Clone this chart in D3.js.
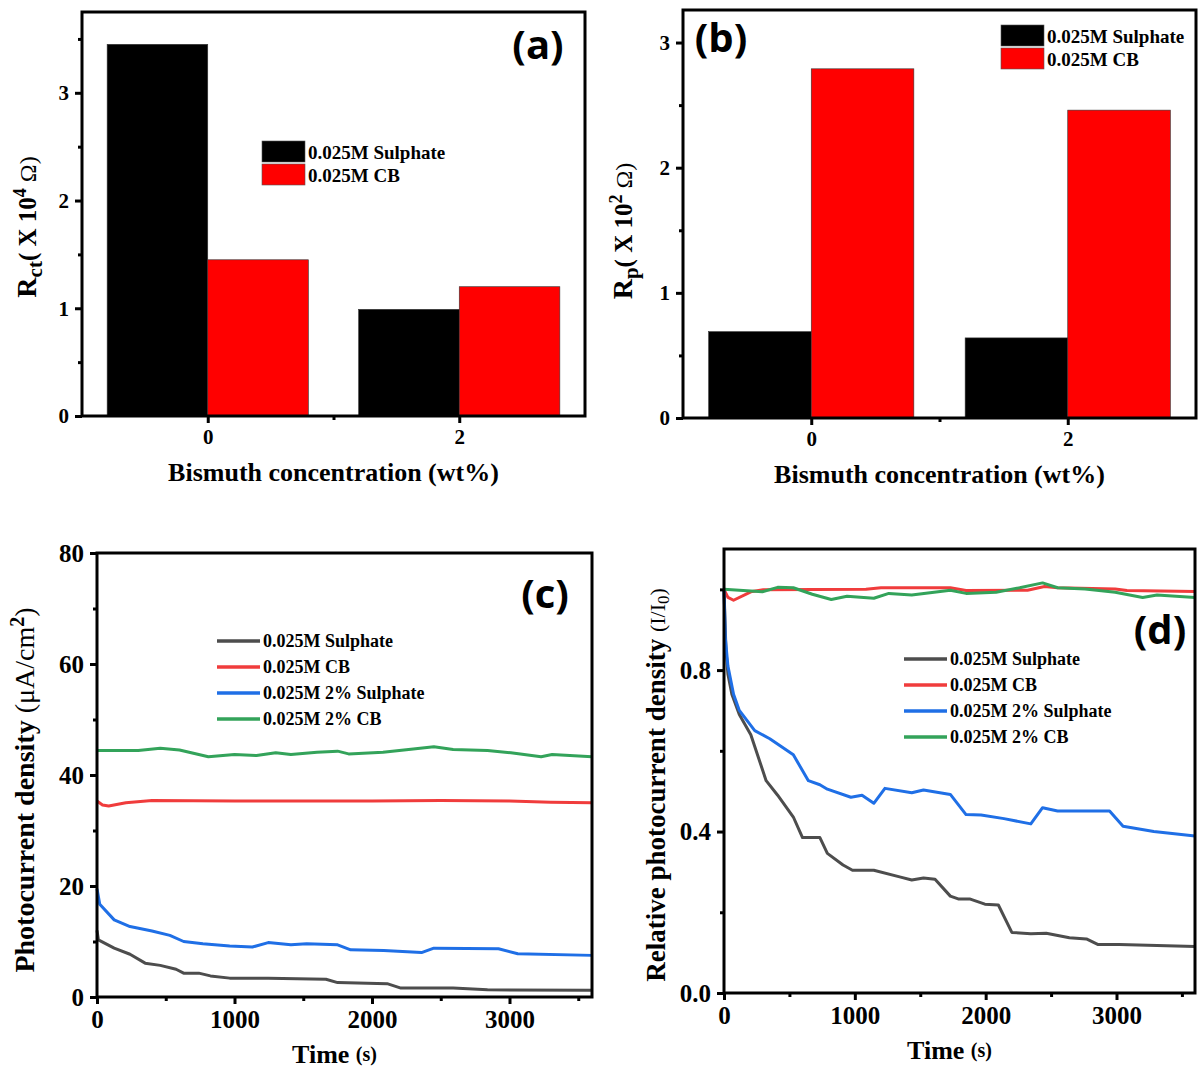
<!DOCTYPE html>
<html lang="en">
<head>
<meta charset="utf-8">
<script src="https://d3js.org/d3.v7.min.js"></script>
<style>
    body { margin: 0; background: #fff; }
    text { font-family: "Liberation Serif", "Times New Roman", serif; font-weight: bold; fill: #000; }
</style>
</head>
<body>
<script>
    // ---- data ----
    const concentrations = [0, 2];
    const rctSulphate = [3.45, 0.99];   // x 10^4 ohm
    const rctCB = [1.45, 1.20];
    const rpSulphate = [0.69, 0.64];    // x 10^2 ohm
    const rpCB = [2.79, 2.46];
    const barNames = ["0.025M Sulphate", "0.025M CB"];
    const barColors = ["#000000", "#ff0000"];

    const lineNames = ["0.025M Sulphate", "0.025M CB", "0.025M 2% Sulphate", "0.025M 2% CB"];
    const lineColors = ["#4d4d4d", "#f03c3c", "#1f6fe6", "#33a35a"];

    // (c) photocurrent density, [time s, uA/cm2]
    const cSulphate = [[0, 12], [10, 10.3], [125, 8.8], [240, 7.7], [350, 6.1], [460, 5.7], [575, 5.0], [630, 4.3], [740, 4.3], [825, 3.8], [965, 3.4], [1245, 3.4], [1665, 3.2], [1750, 2.6], [2110, 2.4], [2210, 1.6], [2590, 1.6], [2840, 1.3], [3600, 1.2]];
    const cCB = [[0, 35.3], [40, 34.6], [85, 34.4], [210, 35.0], [400, 35.4], [1000, 35.3], [2000, 35.3], [2500, 35.4], [3000, 35.3], [3300, 35.1], [3600, 35.0]];
    const c2Sulphate = [[0, 19.5], [20, 16.7], [125, 13.9], [240, 12.7], [400, 11.9], [530, 11.1], [630, 10.0], [770, 9.6], [965, 9.2], [1130, 9.0], [1245, 9.8], [1410, 9.4], [1525, 9.6], [1750, 9.4], [1845, 8.5], [2085, 8.4], [2360, 8.0], [2450, 8.8], [2920, 8.7], [3060, 7.8], [3600, 7.5]];
    const c2CB = [[0, 44.4], [300, 44.4], [460, 44.8], [600, 44.5], [810, 43.3], [1000, 43.7], [1160, 43.5], [1300, 44.0], [1410, 43.7], [1600, 44.1], [1750, 44.3], [1830, 43.8], [2080, 44.1], [2300, 44.7], [2450, 45.1], [2590, 44.6], [2840, 44.4], [3010, 44.0], [3230, 43.3], [3310, 43.7], [3600, 43.3]];

    // (d) relative photocurrent density I/I0
    const dSulphate = [[0, 1.0], [15, 0.85], [30, 0.79], [60, 0.74], [117, 0.69], [205, 0.64], [322, 0.526], [410, 0.49], [530, 0.436], [600, 0.385], [733, 0.385], [790, 0.346], [910, 0.317], [982, 0.304], [1145, 0.304], [1350, 0.287], [1435, 0.28], [1525, 0.285], [1613, 0.282], [1730, 0.24], [1790, 0.233], [1877, 0.233], [1994, 0.22], [2097, 0.218], [2200, 0.15], [2345, 0.147], [2463, 0.148], [2640, 0.137], [2770, 0.134], [2860, 0.12], [3020, 0.12], [3600, 0.115]];
    const dCB = [[0, 1.0], [30, 0.98], [73, 0.973], [205, 0.994], [300, 0.999], [1085, 1.0], [1200, 1.004], [1730, 1.004], [1850, 0.997], [2320, 0.998], [2450, 1.007], [2550, 1.004], [2990, 1.001], [3080, 0.997], [3600, 0.995]];
    const d2Sulphate = [[0, 1.0], [10, 0.88], [30, 0.81], [73, 0.74], [117, 0.70], [235, 0.65], [350, 0.63], [440, 0.61], [530, 0.59], [645, 0.526], [733, 0.516], [790, 0.505], [970, 0.485], [1055, 0.49], [1145, 0.47], [1230, 0.507], [1435, 0.496], [1525, 0.503], [1730, 0.492], [1850, 0.442], [1965, 0.441], [2140, 0.432], [2345, 0.419], [2435, 0.459], [2550, 0.451], [2947, 0.451], [3050, 0.413], [3285, 0.40], [3600, 0.389]];
    const d2CB = [[0, 1.0], [293, 0.994], [410, 1.005], [530, 1.004], [675, 0.988], [820, 0.975], [940, 0.983], [1145, 0.978], [1260, 0.99], [1435, 0.986], [1730, 0.998], [1850, 0.99], [2080, 0.993], [2260, 1.004], [2435, 1.016], [2550, 1.004], [2760, 1.001], [2990, 0.993], [3200, 0.98], [3310, 0.986], [3600, 0.98]];

    const svg = d3.select("body").append("svg")
        .attr("width", 1198)
        .attr("height", 1068);

    // draws axes (major + minor ticks, outward) and frame for one panel
    function drawAxes(box, x, y, xMajor, xMinor, yMajor, yMinor, xFmt, yFmt, fontSize) {
        const g = svg.append("g");
        g.append("g").attr("transform", `translate(0,${box.bottom})`)
            .call(d3.axisBottom(x).tickValues(xMajor).tickSize(7).tickPadding(6).tickFormat(xFmt));
        g.append("g").attr("transform", `translate(0,${box.bottom})`)
            .call(d3.axisBottom(x).tickValues(xMinor).tickSize(4).tickFormat(""));
        g.append("g").attr("transform", `translate(${box.left},0)`)
            .call(d3.axisLeft(y).tickValues(yMajor).tickSize(7).tickPadding(6).tickFormat(yFmt));
        g.append("g").attr("transform", `translate(${box.left},0)`)
            .call(d3.axisLeft(y).tickValues(yMinor).tickSize(4).tickFormat(""));
        g.selectAll(".domain").remove();
        g.selectAll(".tick line").attr("stroke", "#000").attr("stroke-width", 3);
        g.selectAll(".tick text").style("font-size", fontSize + "px").attr("fill", "#000");
        // frame
        g.append("rect")
            .attr("x", box.left).attr("y", box.top)
            .attr("width", box.right - box.left).attr("height", box.bottom - box.top)
            .attr("fill", "none").attr("stroke", "#000").attr("stroke-width", 3);
        return g;
    }

    function panelLabel(txt, cx, cy) {
        svg.append("text").attr("x", cx).attr("y", cy)
            .attr("text-anchor", "middle").attr("dominant-baseline", "central")
            .style("font-family", "'Open Sans', sans-serif").style("font-weight", "700")
            .style("font-size", "40px").text(txt);
    }

    // ---------- bar panels (a) and (b) ----------
    function barPanel(box, sulph, cb, yTop, yMajor, yMinor, exp, sub, legendX, legendY, label, labelXY, titleX, titleY) {
        const x = d3.scaleLinear().domain([-1, 3]).range([box.left, box.right]);
        const y = d3.scaleLinear().domain([0, yTop]).range([box.bottom, box.top]);
        const bw = x(0.8) - x(0);
        const series = [sulph, cb];
        series.forEach((vals, s) => {
            svg.append("g").selectAll("rect").data(vals).join("rect")
                .attr("x", (d, i) => s === 0 ? x(concentrations[i]) - bw : x(concentrations[i]))
                .attr("y", d => y(d))
                .attr("width", bw)
                .attr("height", d => y(0) - y(d))
                .attr("fill", barColors[s])
                .attr("stroke", "#333").attr("stroke-width", 0.6);
        });
        drawAxes(box, x, y, concentrations, [1], yMajor, yMinor, d3.format("d"), d3.format("d"), 21);

        // legend
        barNames.forEach((n, i) => {
            svg.append("rect").attr("x", legendX).attr("y", legendY + i * 23)
                .attr("width", 43).attr("height", 21)
                .attr("fill", barColors[i]).attr("stroke", "#555").attr("stroke-width", 0.6);
            svg.append("text").attr("x", legendX + 46).attr("y", legendY + i * 23 + 11)
                .attr("dominant-baseline", "central").style("font-size", "19px").text(n);
        });

        // axis titles
        svg.append("text").attr("x", (box.left + box.right) / 2).attr("y", box.bottom + 56)
            .attr("text-anchor", "middle").attr("dominant-baseline", "central")
            .style("font-size", "26px").text("Bismuth concentration (wt%)");
        const t = svg.append("text")
            .attr("transform", `translate(${titleX},${titleY}) rotate(-90)`)
            .attr("text-anchor", "middle").style("font-size", "28px");
        t.append("tspan").text("R");
        t.append("tspan").attr("dy", 6).style("font-size", "21px").text(sub);
        t.append("tspan").attr("dy", -6).style("font-size", "25px").text("( X 10");
        t.append("tspan").attr("dy", -10).style("font-size", "18px").text(exp);
        t.append("tspan").attr("dy", 10).style("font-size", "24px").style("font-weight", "normal").text(" \u03A9)");

        panelLabel(label, labelXY[0], labelXY[1]);
    }

    barPanel({ left: 82, top: 12, right: 585, bottom: 416 }, rctSulphate, rctCB, 3.75,
        [0, 1, 2, 3], [0.5, 1.5, 2.5, 3.5], "4", "ct", 262, 141, "(a)", [538, 43], 36, 227);
    barPanel({ left: 683, top: 10, right: 1196, bottom: 418 }, rpSulphate, rpCB, 3.26,
        [0, 1, 2, 3], [0.5, 1.5, 2.5], "2", "p", 1001, 25, "(b)", [721, 36], 632, 231);

    // ---------- line panels (c) and (d) ----------
    function linePanel(box, series, yTop, yMajor, yMinor, yFmt, legendX, legendY) {
        const x = d3.scaleLinear().domain([0, 3600]).range([box.left, box.right]);
        const y = d3.scaleLinear().domain([0, yTop]).range([box.bottom, box.top]);
        const line = d3.line().x(d => x(d[0])).y(d => y(d[1]));
        series.forEach((s, i) => {
            svg.append("path").datum(s)
                .attr("fill", "none").attr("stroke", lineColors[i])
                .attr("stroke-width", 3).attr("stroke-linejoin", "round")
                .attr("d", line);
        });
        drawAxes(box, x, y, [0, 1000, 2000, 3000], [500, 1500, 2500, 3500], yMajor, yMinor, d3.format("d"), yFmt, 25);

        lineNames.forEach((n, i) => {
            svg.append("line").attr("x1", legendX).attr("x2", legendX + 43)
                .attr("y1", legendY + i * 26).attr("y2", legendY + i * 26)
                .attr("stroke", lineColors[i]).attr("stroke-width", 3.5);
            svg.append("text").attr("x", legendX + 46).attr("y", legendY + i * 26)
                .attr("dominant-baseline", "central").style("font-size", "18px").text(n);
        });

        const tt = svg.append("text").attr("x", (box.left + box.right) / 2 - 10).attr("y", box.bottom + 57)
            .attr("text-anchor", "middle").attr("dominant-baseline", "central").style("font-size", "26px");
        tt.append("tspan").text("Time ");
        tt.append("tspan").style("font-size", "20px").text("(s)");
    }

    linePanel({ left: 97, top: 553, right: 592, bottom: 997 }, [cSulphate, cCB, c2Sulphate, c2CB],
        80, [0, 20, 40, 60, 80], [10, 30, 50, 70], d3.format("d"), 217, 641);
    linePanel({ left: 724, top: 549, right: 1195, bottom: 993 }, [dSulphate, dCB, d2Sulphate, d2CB],
        1.1, [0, 0.4, 0.8], [0.2, 0.6, 1.0], d3.format(".1f"), 904, 659);

    // y titles for (c) and (d)
    const tc = svg.append("text").attr("transform", "translate(34,790) rotate(-90)")
        .attr("text-anchor", "middle").style("font-size", "28px");
    tc.append("tspan").text("Photocurrent density ");
    tc.append("tspan").style("font-weight", "normal").text("(\u03BCA/cm");
    tc.append("tspan").attr("dy", -10).style("font-size", "20px").text("2");
    tc.append("tspan").attr("dy", 10).style("font-weight", "normal").text(")");

    const td = svg.append("text").attr("transform", "translate(665,785) rotate(-90)")
        .attr("text-anchor", "middle").style("font-size", "27px");
    td.append("tspan").text("Relative photocurrent density ");
    td.append("tspan").style("font-weight", "normal").style("font-size", "22px").text("(I/I");
    td.append("tspan").attr("dy", 4).style("font-weight", "normal").style("font-size", "17px").text("0");
    td.append("tspan").attr("dy", -4).style("font-weight", "normal").style("font-size", "22px").text(")");

    panelLabel("(c)", 545, 592);
    panelLabel("(d)", 1160, 628);
</script>
</body>
</html>
